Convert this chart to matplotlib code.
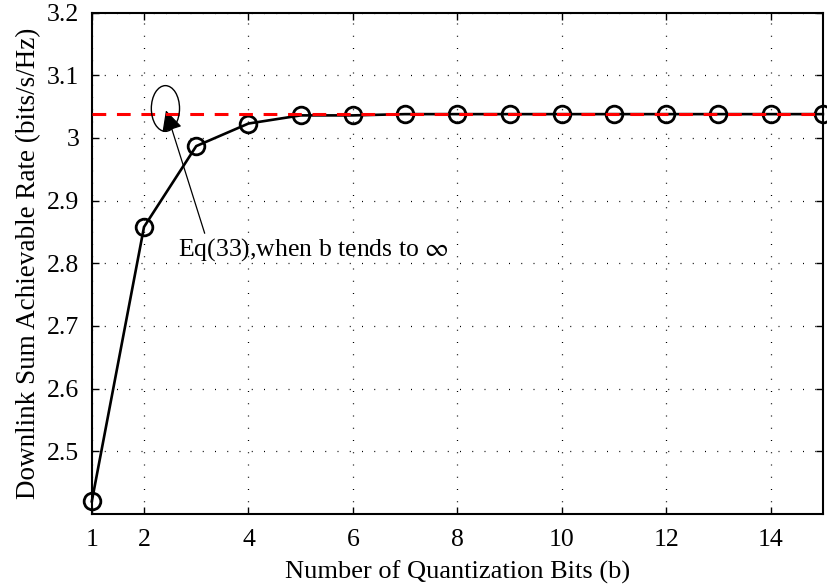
import numpy as np
import matplotlib
matplotlib.use("Agg")
import matplotlib.pyplot as plt
from matplotlib.patches import Ellipse

plt.rcParams['font.family'] = ['Liberation Serif', 'DejaVu Serif']
plt.rcParams['mathtext.fontset'] = 'stix'

# Data
bits = [1, 2, 3, 4, 5, 6, 7, 8, 9, 10, 11, 12, 13, 14, 15]
rate = [2.420, 2.858, 2.987, 3.023, 3.036, 3.036, 3.038, 3.038, 3.038,
        3.038, 3.038, 3.038, 3.038, 3.038, 3.038]
limit_rate = 3.039
xticks = [1, 2, 4, 6, 8, 10, 12, 14]
yticks = [2.5, 2.6, 2.7, 2.8, 2.9, 3.0, 3.1, 3.2]
ytick_labels = ['2.5', '2.6', '2.7', '2.8', '2.9', '3', '3.1', '3.2']

fig = plt.figure(figsize=(8.27, 5.87), dpi=100)
ax = fig.add_axes([0.111, 0.1245, 0.884, 0.854])

ax.plot(bits, rate, color='black', lw=1.9, marker='o', markersize=12,
        markerfacecolor='none', markeredgewidth=2, zorder=3, clip_on=False)
ax.axhline(limit_rate, color='red', lw=2.2, dashes=(4.5, 3.5), zorder=4)

# annotation: ellipse + arrow
ax.add_patch(Ellipse((2.41, 3.047), 0.54, 0.073, fill=False, lw=1, color='black', zorder=5))
ax.annotate('Eq(33),when b tends to $\\infty$', xy=(2.42, 3.044), xytext=(2.66, 2.822),
            fontsize=18.5, ha='left', va='center',
            arrowprops=dict(arrowstyle='-|>', color='black', lw=0.9,
                            mutation_scale=32, shrinkA=0, shrinkB=0,
                            relpos=(0.1, 1.0)))

ax.set_xlim(1, 15)
ax.set_ylim(2.4, 3.2)
ax.set_xticks(xticks)
ax.set_yticks(yticks)
ax.set_yticklabels(ytick_labels)
ax.tick_params(direction='in', top=True, right=True, labelsize=18.5, length=5, width=1, pad=9)
ax.tick_params(axis='x', pad=11)
for s in ax.spines.values():
    s.set_linewidth(1.5)

ax.grid(True, color='black', lw=0.9, dashes=(0.8, 9))

ax.set_xlabel('Number of Quantization Bits (b)', fontsize=19, labelpad=7)
ax.set_ylabel('Downlink Sum Achievable Rate (bits/s/Hz)', fontsize=19.5, labelpad=4)

fig.savefig('out.png', dpi=100)
